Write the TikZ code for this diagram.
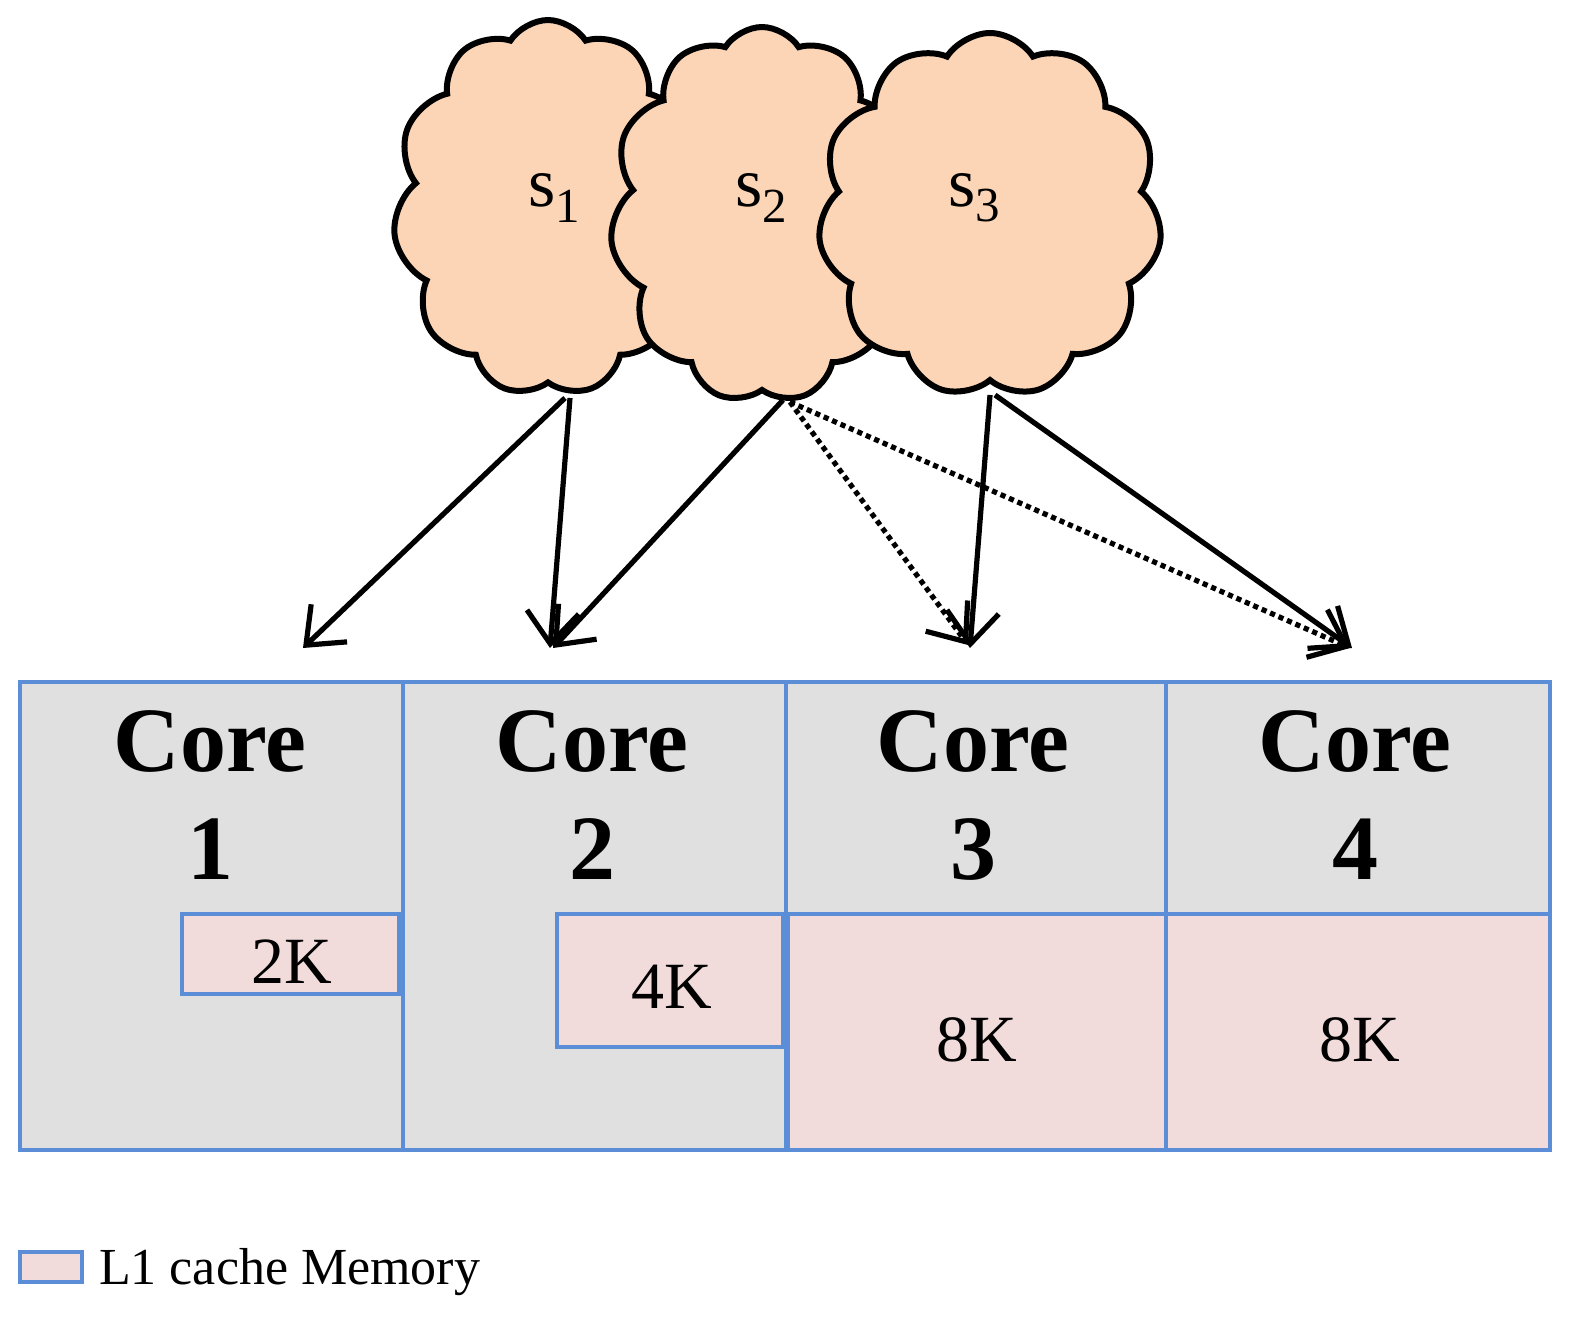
\documentclass[tikz,border=0pt]{standalone}
\usepackage{fontspec}
\setmainfont{Liberation Serif}
\usetikzlibrary{shapes.symbols,arrows.meta}
\definecolor{cfill}{HTML}{FBD5B5}
\definecolor{gfill}{HTML}{E0E0E0}
\definecolor{pfill}{HTML}{F2DCDB}
\definecolor{bl}{HTML}{5B8ED6}
\begin{document}
\begin{tikzpicture}[x=0.5pt,y=-0.5pt,
 cl/.style={cloud,cloud puffs=11,cloud puff arc=115,draw=black,line width=3pt,fill=cfill,inner sep=0pt,aspect=0.85},
 bx/.style={draw=bl,line width=2.3pt},
 core/.style={font=\bfseries\fontsize{46}{54}\selectfont,align=center},
 sz/.style={font=\fontsize{33}{33}\selectfont},
 sl/.style={font=\fontsize{35}{35}\selectfont},
 ar/.style={line width=2.6pt,-{Straight Barb[length=16pt,width=26pt,line width=2.6pt]}},
 dar/.style={ar,dotted,line width=2.6pt}]
\useasboundingbox (0,0) rectangle (1574,1320);
% clouds
\node[cl,minimum width=155pt,minimum height=188pt] (c1) at (548,208) {};
\node[cl,minimum width=152pt,minimum height=188pt] (c2) at (762,215) {};
\node[cl,minimum width=172pt,minimum height=182pt] (c3) at (990,215) {};
\node[sl] (s1) at (555,198) {s$_{\mathrm{1}}$};
\node[sl] (s2) at (762,198) {s$_{\mathrm{2}}$};
\node[sl] (s3) at (975,198) {s$_{\mathrm{3}}$};
% boxes
\draw[bx,fill=gfill] (20,682) rectangle (403,1150);
\draw[bx,fill=gfill] (403,682) rectangle (786,1150);
\draw[bx,fill=gfill] (786,682) rectangle (1166,1150);
\draw[bx,fill=gfill] (1166,682) rectangle (1550,1150);
\draw[bx,fill=pfill] (182,914) rectangle (399,994);
\draw[bx,fill=pfill] (557,914) rectangle (783,1047);
\draw[bx,fill=pfill] (788,914) rectangle (1166,1150);
\draw[bx,fill=pfill] (1166,914) rectangle (1550,1150);
\node[core] (k1) at (210,795) {Core\\1};
\node[core] (k2) at (592,795) {Core\\2};
\node[core] (k3) at (973,795) {Core\\3};
\node[core] (k4) at (1355,795) {Core\\4};
\node[sz] (m1) at (292,962) {2K};
\node[sz] (m2) at (672,987) {4K};
\node[sz] (m3) at (977,1040) {8K};
\node[sz] (m4) at (1360,1040) {8K};
% arrow endpoints
\coordinate (a1) at (565,398); \coordinate (a2) at (570,398);
\coordinate (b1) at (783,400); \coordinate (b2) at (790,402);
\coordinate (d1) at (990,395); \coordinate (d2) at (995,395);
\coordinate (t1) at (303,648); \coordinate (t2) at (550,648);
\coordinate (t3) at (553,648); \coordinate (t4) at (968,645);
\coordinate (t5) at (1350,648); \coordinate (t6) at (970,648);
\coordinate (t7) at (1352,648);
\draw[ar] (a1) -- (t1);
\draw[ar] (a2) -- (t2);
\draw[ar] (b1) -- (t3);
\draw[dar] (b2) -- (t4);
\draw[dar] (b2) -- (t5);
\draw[ar] (d1) -- (t6);
\draw[ar] (d2) -- (t7);
% legend
\draw[bx,fill=pfill] (20,1252) rectangle (82,1282);
\node[anchor=west,font=\fontsize{26}{26}\selectfont] (lg) at (92,1272) {L1 cache Memory};
\end{tikzpicture}
\end{document}
